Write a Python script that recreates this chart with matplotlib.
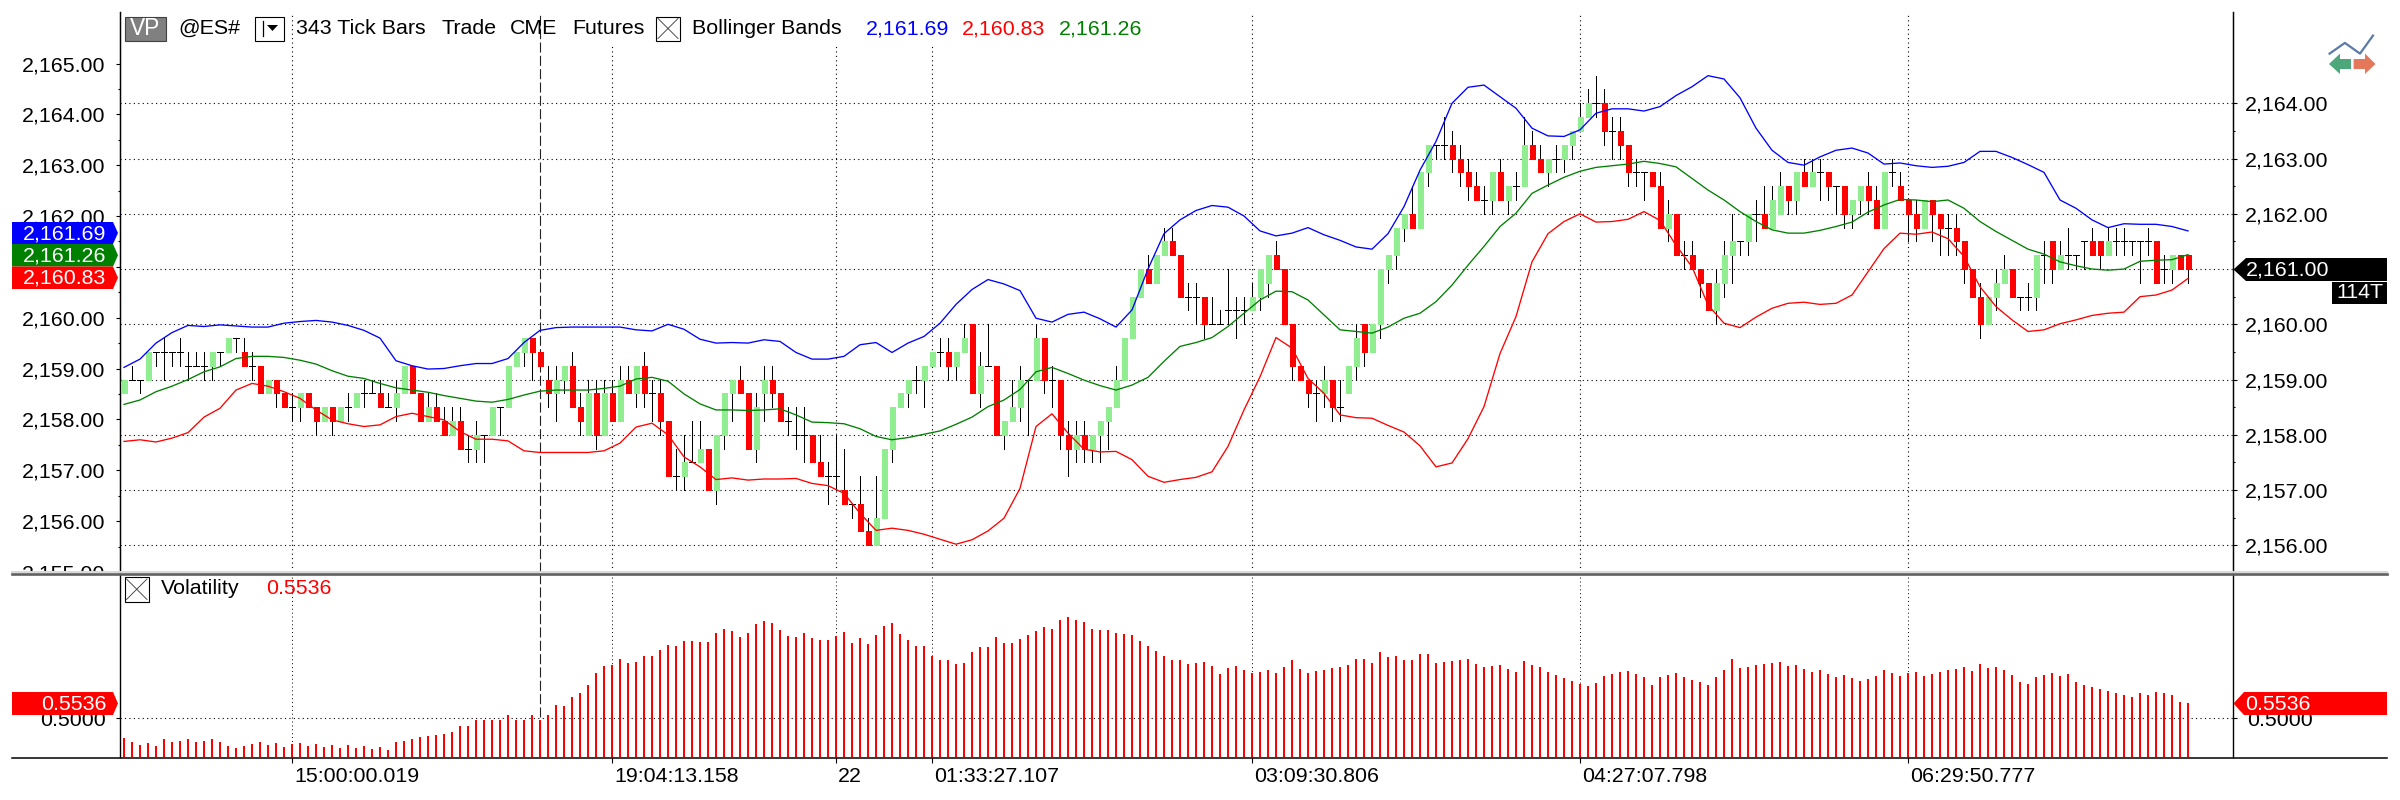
import numpy as np
import matplotlib
matplotlib.use("Agg")
import matplotlib.pyplot as plt
from matplotlib.patches import Rectangle, Polygon
from matplotlib.transforms import ScaledTranslation

W, H = 2400, 800
RIGHT_END = 2387
PRICE_BASE = 2150.0

opens = [8.75,9,9,9,9.5,9.5,9.5,9.5,9.25,9.25,
 9.25,9.25,9.5,9.5,9.75,9.5,9.25,9.25,8.75,9,
 8.75,8.5,8.5,8.75,8.5,8.25,8.5,8.25,8.5,8.5,
 8.75,8.75,8.75,8.5,8.5,8.75,9.25,8.75,8.25,8.5,
 8.25,8,8.25,7.75,7.75,8,8,8.5,8.5,9.25,
 9.5,9.75,9.5,9,8.75,9,9.25,8.5,8,8.75,
 8,8.75,8.25,9,8.75,9.25,8.75,8.75,8.25,7.25,
 7.25,7.5,7.5,7.75,7,8,8.75,9,8.75,7.75,
 8.75,9,8.75,8.25,8,8,8,7.5,7.25,7.25,
 7,6.75,6.75,6.25,6,6.5,7.75,8.5,8.75,9,
 9,9.25,9.5,9.5,9.25,9.5,10,8.75,9.25,9.25,
 8,8.25,8.5,9,9,9.75,9,9,8,7.75,
 8,7.75,8,8.25,8.5,9,9.75,10.5,11,10.75,
 11.25,11.5,11.25,10.5,10.5,10.5,10,10,10.25,10.25,
 10.25,10.25,10.5,10.75,11.25,11,10,9.25,9,8.75,
 8.75,9,8.5,8.75,9.25,10,9.5,10,11,11.25,
 11.75,12,11.75,12.75,13.25,13.25,13.25,13,12.75,12.5,
 12.25,12.25,12.75,12.25,12.5,12.5,13.25,13,12.75,13,
 13,13.25,13.5,13.75,14,14,13.5,13.5,13.25,12.75,
 12.75,12.75,12.5,11.75,12,11.25,11.25,11,10.75,10.25,
 10.75,11.25,11.5,11.5,12,12,11.75,12,12.5,12.25,
 12.75,12.5,12.75,12.75,12.5,12.5,12,12.25,12.5,12.25,
 11.75,12.75,12.5,12.25,12,11.75,12.25,12,11.75,11.75,
 11.5,11,10.5,10,10.5,10.75,11,10.5,10.5,10.5,
 11.25,11.5,11,11.25,11.25,11.5,11.5,11.5,11.25,11.5,
 11.5,11.5,11.5,11.5,11.5,11,11,11.25,11.25]

closes = [9,9,9,9.5,9.5,9.5,9.5,9.5,9.25,9.25,
 9.25,9.5,9.5,9.75,9.75,9.25,9.25,8.75,9,8.75,
 8.5,8.5,8.75,8.5,8.25,8.5,8.25,8.5,8.5,8.75,
 8.75,8.75,8.5,8.5,8.75,9.25,8.75,8.25,8.5,8.25,
 8,8.25,7.75,7.75,8,8,8.5,8.5,9.25,9.5,
 9.75,9.5,9.25,8.75,9,9.25,8.5,8.25,8.75,8,
 8.75,8.25,9,8.75,9.25,8.75,8.75,8.25,7.25,7.25,
 7.5,7.5,7.75,7,8,8.75,9,8.75,7.75,8.5,
 9,8.75,8.25,8.25,8,8,7.5,7.25,7.25,7.25,
 6.75,6.75,6.25,6,6.5,7.75,8.5,8.75,9,9,
 9.25,9.5,9.5,9.25,9.5,9.75,8.75,9.25,9.25,8,
 8.25,8.5,9,9,9.75,9,9,8,7.75,8,
 7.75,8,8.25,8.5,9,9.75,10.5,11,10.75,11.25,
 11.5,11.25,10.5,10.5,10.5,10,10,10,10.25,10.25,
 10.25,10.5,11,11.25,11,10,9.25,9,8.75,8.75,
 9,8.5,8.5,9.25,9.75,9.5,10,11,11.25,11.75,
 12,11.75,12.75,13.25,13.25,13.25,13,12.75,12.5,12.25,
 12.25,12.75,12.25,12.5,12.5,13.25,13,12.75,13,13,
 13.25,13.5,13.75,14,14,13.5,13.5,13.25,12.75,12.75,
 12.75,12.5,11.75,12,11.25,11.25,11,10.75,10.25,10.75,
 11.25,11.5,11.5,12,12,11.75,12.25,12.5,12.25,12.75,
 12.5,12.75,12.75,12.5,12.5,12,12.25,12.5,12.25,11.75,
 12.75,12.75,12.25,12,11.75,12.25,12,11.75,11.75,11.5,
 11,10.5,10,10.5,10.75,11,10.5,10.5,10.5,11.25,
 11.25,11,11.25,11.25,11.25,11.5,11.25,11.25,11.5,11.5,
 11.5,11.5,11.5,11.5,10.75,11,11.25,11,11]

highs = [9,9.25,9,9.5,9.5,9.75,9.5,9.75,9.5,9.5,
 9.5,9.5,9.5,9.75,9.75,9.75,9.5,9.25,9,9,
 8.75,8.75,8.75,8.75,8.5,8.5,8.5,8.5,8.75,8.75,
 9,9,9,8.75,9,9.25,9.25,8.75,8.75,8.75,
 8.5,8.5,8.5,8,8.25,8,8.5,8.5,9.25,9.5,
 9.75,9.75,9.5,9.25,9.25,9.25,9.5,8.75,9,9,
 9,9,9.25,9.25,9.25,9.5,9,9,8.25,7.75,
 8,8.25,8.25,7.75,8,8.75,9,9.25,8.75,8.75,
 9.25,9.25,8.75,8.5,8.5,8.5,8,8,7.5,8,
 7.75,6.75,7.25,6.5,7.25,7.75,8.5,8.75,9,9.25,
 9.25,9.5,9.75,9.75,9.5,10,10,9.5,10,9.25,
 8.25,9,9.25,9,10,9.75,9.25,9,8.25,8.25,
 8.25,8,8.25,8.5,9.25,9.75,10.5,11,11.25,11.25,
 11.75,11.75,11.25,10.75,10.75,10.5,10.5,10.25,11,10.5,
 10.5,10.75,11,11.25,11.5,11,10,9.25,9,9,
 9.25,9,9,9.25,10,10,10,11,11.25,11.75,
 12,12.5,12.75,13.25,13.25,13.75,13.5,13.25,13,12.75,
 12.5,12.75,13,12.5,12.75,13.75,13.5,13.25,13,13.25,
 13.25,13.5,14,14.25,14.5,14.25,13.75,13.75,13.25,13,
 12.75,12.75,12.75,12.25,12,11.5,11.5,11,10.75,11,
 11.5,12,11.5,12,12.25,12.5,12.5,12.75,12.5,12.75,
 13,13,13,12.75,12.5,12.5,12.25,12.5,12.75,12.5,
 12.75,13,12.75,12.25,12.25,12.25,12.25,12,12,12,
 11.5,11,10.75,10.5,11,11.25,11,10.5,10.75,11.25,
 11.5,11.5,11.5,11.75,11.25,11.5,11.75,11.5,11.75,11.75,
 11.75,11.5,11.5,11.75,11.5,11.25,11.25,11.25,11.25]

lows = [8.75,9,8.75,9,9.25,9,9.25,9.25,9,9.25,
 9,9,9.25,9.5,9.5,9.25,9,8.75,8.75,8.5,
 8.5,8.25,8.25,8.5,8,8.25,8,8.25,8.25,8.5,
 8.5,8.75,8.5,8.5,8.25,8.75,8.75,8.25,8.25,8.25,
 8,8,7.75,7.5,7.5,7.5,8,8,8.5,9.25,
 9.25,9,9.25,8.5,8.25,8.75,8.5,8,8,7.75,
 8,8.25,8.25,8.75,8.5,8.5,8.25,8,7.25,7,
 7,7.5,7.5,7,6.75,7.75,8.25,8.75,7.75,7.5,
 8.25,8.5,8.25,8,7.75,7.5,7.5,7.25,6.75,7,
 6.75,6.5,6.25,6,6,6.5,7.5,8.5,8.5,8.75,
 8.5,9.25,9.25,9,9,9.5,8.75,8.5,9.25,8,
 7.75,8.25,8.25,8,9,8.75,8.5,7.75,7.25,7.5,
 7.5,7.5,7.5,7.75,8.5,9,9.75,10.5,10.75,10.75,
 11.25,11.25,10.5,10.25,10,9.75,10,10,10,9.75,
 10,10.25,10.25,10.5,11,10,9,9,8.5,8.25,
 8.5,8.25,8.25,8.75,9,9.25,9.5,9.75,10.75,11,
 11.5,11.75,11.75,12.5,13,13,12.75,12.5,12.25,12.25,
 12,12,12.25,12,12.25,12.5,13,12.75,12.5,12.75,
 12.75,13,13.5,13.75,13.75,13.25,13,13,12.5,12.5,
 12.25,12.5,11.75,11.5,11.25,11,11,10.5,10.25,10,
 10.5,10.75,11.25,11.25,11.5,11.75,11.75,12,12,12,
 12.5,12.5,12.25,12.25,12,11.75,11.75,12,12,11.75,
 11.75,12.5,12.25,11.5,11.5,11.75,11.5,11.25,11.25,11.25,
 10.75,10.5,9.75,10,10.25,10.75,10.5,10.25,10.25,10.25,
 10.75,10.75,11,11,11,11,11.25,11,11.25,11.25,
 11.25,11.25,10.75,11.25,10.75,10.75,10.75,11,10.75]

band_bars = list(range(0, 259, 2))
band_upper = [9.22,9.37,9.66,9.85,9.98,9.96,9.99,9.97,9.95,9.95,10.02,10.05,10.07,10.04,9.98,9.89,9.75,9.34,9.25,9.19,
 9.20,9.25,9.29,9.29,9.38,9.67,9.89,9.94,9.95,9.95,9.95,9.95,9.90,9.88,10.0,9.91,9.73,9.66,9.67,9.66,
 9.72,9.69,9.49,9.37,9.37,9.42,9.63,9.67,9.49,9.66,9.78,10.02,10.36,10.63,10.81,10.73,10.61,10.11,10.04,10.18,
 10.22,10.10,9.95,10.26,11.0,11.64,11.89,12.06,12.15,12.12,11.96,11.69,11.6,11.65,11.75,11.62,11.52,11.4,11.36,11.64,
 12.13,12.79,13.31,14.0,14.29,14.33,14.12,13.91,13.55,13.41,13.40,13.52,13.82,13.9,13.90,13.86,13.94,14.14,14.3,14.5,
 14.44,14.1,13.55,13.15,12.93,12.88,13.03,13.15,13.19,13.1,12.9,12.92,12.87,12.84,12.86,12.93,13.13,13.13,13.02,12.89,
 12.75,12.25,12.1,11.89,11.75,11.82,11.81,11.81,11.77,11.69]
band_middle = [8.55,8.63,8.78,8.88,9.0,9.14,9.23,9.38,9.42,9.42,9.40,9.35,9.28,9.16,9.06,9.02,8.93,8.85,8.81,8.77,
 8.71,8.66,8.61,8.59,8.64,8.72,8.79,8.81,8.81,8.81,8.84,8.88,9.01,9.04,8.97,8.74,8.56,8.45,8.45,8.44,
 8.45,8.47,8.36,8.23,8.22,8.2,8.11,7.97,7.91,7.95,8.01,8.07,8.19,8.32,8.51,8.63,8.82,9.14,9.22,9.11,
 8.99,8.89,8.81,8.9,9.04,9.33,9.6,9.67,9.76,9.96,10.2,10.44,10.6,10.59,10.44,10.17,9.9,9.87,9.84,9.95,
 10.11,10.2,10.41,10.71,11.07,11.41,11.77,12.01,12.37,12.52,12.66,12.77,12.84,12.87,12.9,12.95,12.91,12.85,12.64,12.43,
 12.25,12.04,11.86,11.71,11.65,11.65,11.7,11.77,11.85,12.03,12.16,12.26,12.25,12.22,12.25,12.1,11.86,11.68,11.52,11.36,
 11.27,11.13,11.06,11,10.98,11,11.14,11.16,11.17,11.26]
band_lower = [7.88,7.91,7.87,7.94,8.04,8.32,8.48,8.81,8.93,8.88,8.78,8.66,8.45,8.27,8.2,8.15,8.18,8.33,8.39,8.33,
 8.27,8.06,7.92,7.92,7.89,7.71,7.68,7.68,7.68,7.68,7.71,7.85,8.14,8.21,8.0,7.6,7.42,7.19,7.22,7.18,
 7.2,7.2,7.21,7.12,7.08,6.94,6.58,6.27,6.31,6.27,6.2,6.11,6.02,6.1,6.26,6.49,7.03,8.15,8.38,8.03,
 7.74,7.69,7.70,7.55,7.25,7.14,7.19,7.23,7.33,7.79,8.45,9.05,9.76,9.57,9.02,8.75,8.36,8.31,8.30,8.17,
 8.05,7.8,7.42,7.49,7.93,8.51,9.47,10.14,11.13,11.64,11.86,12.0,11.85,11.86,11.90,12.04,11.88,11.43,11.04,10.35,
 10.02,9.94,10.13,10.29,10.38,10.4,10.36,10.38,10.53,10.95,11.37,11.65,11.63,11.67,11.55,11.23,10.68,10.32,10.08,9.87,
 9.9,10.01,10.08,10.16,10.2,10.22,10.5,10.53,10.62,10.83]

volatility = [.431,.417,.406,.413,.403,.427,.417,.420,.427,.417,.420,.427,.417,.403,.396,.403,.410,.417,.406,.413,
 .399,.410,.413,.403,.410,.399,.406,.396,.406,.396,.403,.392,.399,.389,.417,.420,.427,.434,.438,.441,
 .445,.452,.473,.473,.494,.494,.494,.494,.512,.494,.494,.512,.494,.512,.547,.543,.575,.589,.617,.659,
 .684,.687,.708,.694,.698,.719,.719,.740,.757,.754,.771,.771,.768,.768,.800,.814,.807,.785,.800,.831,
 .842,.835,.810,.789,.785,.800,.782,.775,.775,.789,.803,.764,.782,.761,.793,.824,.835,.796,.775,.754,
 .754,.719,.705,.705,.691,.694,.733,.750,.750,.785,.764,.764,.778,.793,.807,.821,.814,.845,.856,.845,
 .838,.814,.810,.810,.800,.796,.793,.771,.754,.736,.719,.705,.705,.691,.694,
 .698,.684,.656,.677,.684,.670,.659,.663,.670,.659,.680,.705,.673,.659,.666,.670,.677,.680,.687,.708,
 .708,.694,.733,.715,.719,.705,.705,.726,.726,.694,.698,.701,.705,.708,.691,.680,.684,.687,.673,.663,
 .701,.687,.680,.663,.652,.642,.631,.621,.613,.624,.649,.656,.663,.666,.656,.645,.617,.645,.652,.659,
 .645,.635,.628,.617,.645,.670,.708,.677,.680,.687,.691,.694,.698,.684,.687,.673,.663,.670,.656,.645,
 .652,.642,.631,.638,.649,.670,.659,.649,.659,.663,.649,.656,.663,.670,.673,.680,.666,.691,.677,.680,
 .670,.652,.628,.621,.645,.652,.659,.649,.656,.628,.617,.610,.603,.596,.589,.582,.575,.589,.582,.592,
 .589,.582,.557,.5536]

right_ticks = [2156, 2157, 2158, 2159, 2160, 2161, 2162, 2163, 2164]
left_ticks = [2155, 2156, 2157, 2158, 2159, 2160, 2161, 2162, 2163, 2164, 2165]
left_tick_labels = ["2,155.00", "2,156.00", "2,157.00", "2,158.00", "2,159.00", "2,160.00",
                    "", "2,162.00", "2,163.00", "2,164.00", "2,165.00"]
time_bars = [21, 61, 89, 101, 141, 182, 223]
time_labels = ["15:00:00.019", "19:04:13.158", "22", "01:33:27.107",
               "03:09:30.806", "04:27:07.798", "06:29:50.777"]
cursor_bar = 52

FONT = "Liberation Sans"
FS = 15.4
plt.rcParams["font.family"] = FONT

RED, LGREEN = "#FF0000", "#90EE90"

fig = plt.figure(figsize=(W / 100, H / 100), dpi=100, facecolor="white")


def rect(l, t, r, b):
    return [l / W, 1 - b / H, (r - l) / W, (b - t) / H]


def px_to_bar(p):
    return (p - 124) / 8.0


X0, X1 = 119.5, 2233
ax = fig.add_axes(rect(X0, 12, X1, 572))
axv = fig.add_axes(rect(X0, 575, X1, 757.3))
for a in (ax, axv):
    a.set_xlim(px_to_bar(X0), px_to_bar(X1))
    a.spines["top"].set_visible(False)
    a.spines["bottom"].set_visible(False)
    for s in ("left", "right"):
        a.spines[s].set_linewidth(1.0)

DOT = (0, (1, 3))
xs = np.arange(len(opens))
o = PRICE_BASE + np.array(opens)
c = PRICE_BASE + np.array(closes)
h = PRICE_BASE + np.array(highs)
l = PRICE_BASE + np.array(lows)

ax.set_ylim(2164 - (572 - 103.3) / 55.25, 2164 + (103.3 - 12) / 55.25)
for p in right_ticks:
    ax.axhline(p, color="black", lw=0.8, ls=DOT, zorder=1)
for b in time_bars:
    ax.axvline(b, ymax=1 - 3 / 560, color="black", lw=0.8, ls=DOT, zorder=1)
    axv.axvline(b, color="black", lw=0.7, ls=DOT, zorder=1)
ax.axvline(cursor_bar, color="#222222", lw=0.8, ls=(0, (9, 3)), zorder=1)
axv.axvline(cursor_bar, color="#222222", lw=0.8, ls=(0, (9, 3)), zorder=1)

ax.vlines(xs, l, h, color="black", lw=0.72, zorder=2, antialiased=False)
doji = o == c
ax.hlines(o[doji], xs[doji] - 0.375, xs[doji] + 0.375, color="black", lw=0.72,
          zorder=2, antialiased=False)
up = c > o
down = c < o
ax.bar(xs[up], (c - o)[up], bottom=o[up], width=0.625, color=LGREEN,
       edgecolor=LGREEN, linewidth=0.72, zorder=3, antialiased=False)
ax.bar(xs[down], (o - c)[down], bottom=c[down], width=0.625, color=RED,
       edgecolor=RED, linewidth=0.72, zorder=3, antialiased=False)

for vals, col in ((band_upper, "#0000FF"), (band_lower, "#FF0000"), (band_middle, "#008000")):
    ax.plot(band_bars, PRICE_BASE + np.array(vals), color=col, lw=0.95, zorder=4)

ax.set_xticks([])
axl = ax.twinx()
axl.set_xlim(ax.get_xlim())
ax.yaxis.tick_right()
ax.set_yticks(right_ticks)
ax.set_yticks(np.array(right_ticks[:-1]) + 0.5, minor=True)
ax.set_yticklabels([f"{p:,.2f}" for p in right_ticks], fontsize=FS)
ax.tick_params(axis="y", which="major", length=3.2, width=0.8, pad=5)
ax.tick_params(axis="y", which="minor", length=1.5, width=0.8)

axl.yaxis.tick_left()
axl.set_ylim(2165 - (572 - 63.9) / 51.24, 2165 + (63.9 - 12) / 51.24)
axl.set_yticks(left_ticks)
axl.set_yticks(np.array(left_ticks[:-1]) + 0.5, minor=True)
axl.set_yticklabels(left_tick_labels, fontsize=FS)
axl.tick_params(axis="y", which="major", length=3.2, width=0.8, pad=7)
axl.tick_params(axis="y", which="minor", length=1.5, width=0.8)
for s in ("top", "bottom"):
    axl.spines[s].set_visible(False)

VOL_BASE = 0.363
axv.set_ylim(VOL_BASE, VOL_BASE + (757.3 - 575) * 0.00351)
axv.axhline(0.5, color="black", lw=0.8, ls=DOT, zorder=1)
axv.vlines(np.arange(len(volatility)), VOL_BASE, volatility, color=RED, lw=1.4,
           zorder=2, antialiased=False)
axv.set_yticks([0.5])
axv.set_yticklabels(["0.5000"], fontsize=FS)
axv.tick_params(axis="y", length=3, width=0.8, pad=7, left=True, right=True,
                labelleft=True, labelright=True)
axv.set_xticks(time_bars)
axv.set_xticklabels(time_labels, fontsize=FS, ha="left")
axv.tick_params(axis="x", length=4.3, width=0.8, pad=3)
shift = ScaledTranslation(2 / 100, 0, fig.dpi_scale_trans)
for t in axv.get_xticklabels():
    t.set_transform(t.get_transform() + shift)

# overlay in pixel coordinates for panel furniture
ov = fig.add_axes([0, 0, 1, 1], zorder=10)
ov.set_xlim(0, W)
ov.set_ylim(H, 0)
ov.axis("off")
ov.patch.set_alpha(0)

ov.add_patch(Rectangle((0, 571), 118, 22, fc="white", ec="none", zorder=1))
ov.plot([12, RIGHT_END], [571.5, 571.5], color="#d8d8d8", lw=1.4, zorder=2)
ov.plot([12, RIGHT_END], [574, 574], color="#606060", lw=1.9, zorder=2)
ov.plot([12, RIGHT_END], [757.5, 757.5], color="black", lw=1.1, zorder=2)


def label(x, y, s, color="black", ha="left", bg=False, **kw):
    opts = dict(fontsize=FS, va="center", ha=ha, color=color, zorder=6)
    if bg:
        opts["bbox"] = dict(fc="white", ec="none", pad=4.5)
    opts.update(kw)
    ov.text(x, y, s, **opts)


def left_flag(t, b, col, s):
    m = (t + b) / 2
    ov.add_patch(Polygon([(12, t), (113, t), (118, m), (113, b), (12, b)], fc=col, ec="none", zorder=5))
    label(106.5, m + 0.5, s, color="white", ha="right")


left_flag(222, 244, "#0000FF", "2,161.69")
left_flag(244, 266.5, "#008000", "2,161.26")
left_flag(266.5, 289, RED, "2,160.83")
left_flag(692, 715, RED, "0.5536")

ov.add_patch(Polygon([(2233.5, 703.5), (2244, 692), (RIGHT_END, 692), (RIGHT_END, 715), (2244, 715)], fc=RED, ec="none", zorder=5))
label(2245, 704, "0.5536", color="white")
ov.add_patch(Polygon([(2233.5, 269.5), (2246, 258), (RIGHT_END, 258), (RIGHT_END, 281), (2246, 281)], fc="black", ec="none", zorder=5))
label(2246, 270, "2,161.00", color="white")
ov.add_patch(Rectangle((2332, 282), RIGHT_END - 2332, 21.5, fc="black", ec="none", zorder=5))
label(2336, 293, "114T", color="white")

# header row
HY = 28.7
ov.add_patch(Rectangle((124.5, 16.5), 41, 24, fc="#808080", ec="#404040", lw=0.8, zorder=5))
label(145, HY, "VP", color="white", ha="center", fontsize=FS + 1)
label(178.5, HY, "@ES#")
ov.add_patch(Rectangle((255, 16.5), 28.5, 24, fc="white", ec="black", lw=0.8, zorder=5))
ov.plot([263, 263], [21, 36], color="black", lw=0.9, zorder=6)
ov.add_patch(Polygon([(267, 25), (278, 25), (272.5, 31)], fc="black", ec="none", zorder=6))
label(296, HY, "343 Tick Bars")
label(442, HY, "Trade")
label(510, HY, "CME")
label(572.5, HY, "Futures", bg=True)


def checkbox(x0, y0, x1, y1):
    ov.add_patch(Rectangle((x0, y0), x1 - x0, y1 - y0, fc="white", ec="black", lw=0.8, zorder=5))
    ov.plot([x0 + 2, x1 - 2], [y0 + 2, y1 - 2], color="#333333", lw=0.6, zorder=6)
    ov.plot([x0 + 2, x1 - 2], [y1 - 2, y0 + 2], color="#333333", lw=0.6, zorder=6)


checkbox(656, 16.5, 680, 40.5)
label(692, HY, "Bollinger Bands", bg=True)
label(866, HY, "2,161.69", color="#0000FF", bg=True)
label(962, HY, "2,160.83", color=RED)
label(1058.5, HY, "2,161.26", color="#008000")

checkbox(124.5, 577, 149, 601.5)
label(160.7, 589, "Volatility")
label(266, 589, "0.5536", color=RED)

# corner icon
ov.plot([2329.6, 2344.9, 2360, 2373], [53.6, 42.9, 53.6, 35.6], color="#5B7BA6", lw=1.6, zorder=6)
ov.add_patch(Polygon([(2329, 64), (2340, 53.6), (2340, 59), (2351, 59), (2351, 69), (2340, 69), (2340, 74)],
                     fc="#4CA87A", ec="none", zorder=6))
ov.add_patch(Polygon([(2375.5, 64), (2365, 53.6), (2365, 59), (2353.6, 59), (2353.6, 69), (2365, 69), (2365, 74)],
                     fc="#E5775A", ec="none", zorder=6))

fig.savefig("out.png", dpi=100, facecolor="white")
